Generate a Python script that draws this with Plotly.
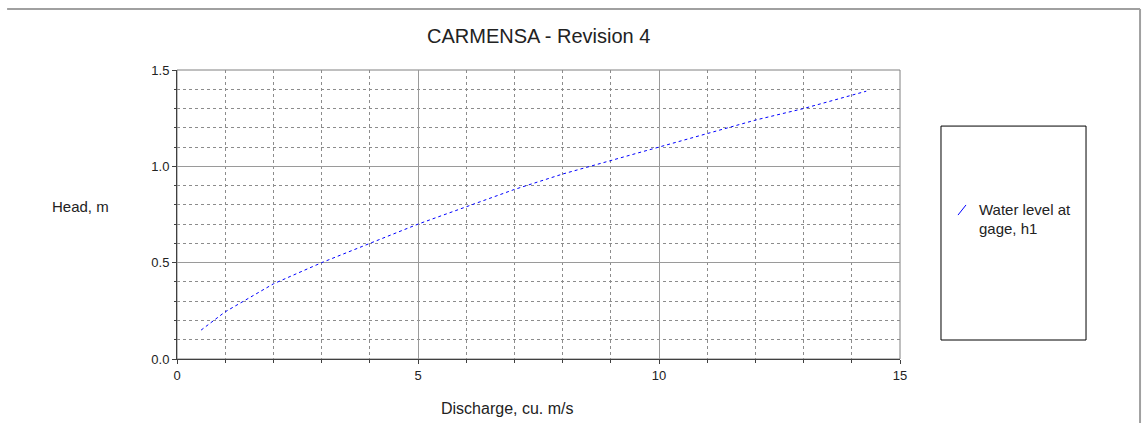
import plotly.graph_objects as go

# rating curve
discharge = [0.5, 1, 2, 3, 4, 5, 6, 7, 8, 9, 10, 11, 12, 13, 14, 14.3]
head = [0.15, 0.245, 0.39, 0.50, 0.60, 0.70, 0.79, 0.88, 0.96, 1.03, 1.10, 1.17, 1.24, 1.30, 1.37, 1.39]

x_ticks = [0, 5, 10, 15]
y_ticks = [0.0, 0.5, 1.0, 1.5]
y_tick_text = ['0.0', '0.5', '1.0', '1.5']

series_name = 'Water level at gage, h1'
title = 'CARMENSA - Revision 4'

font = 'Liberation Sans, Arial, sans-serif'
grid_grey = '#8c8c8c'

fig = go.Figure()
fig.add_trace(
    go.Scatter(
        x=discharge,
        y=head,
        mode='lines',
        name=series_name,
        line=dict(color='#0000ff', width=1, dash='3px,3px'),
        showlegend=False,
    )
)

axis_common = dict(
    showline=True,
    linecolor='#404040',
    linewidth=1,
    ticks='outside',
    ticklen=4,
    tickcolor='#404040',
    showgrid=True,
    gridcolor='#9a9a9a',
    gridwidth=1,
    zeroline=False,
    tickfont=dict(family=font, size=13, color='#222222'),
)

fig.update_layout(
    width=1143,
    height=423,
    margin=dict(l=177, r=243, t=70, b=64),
    paper_bgcolor='white',
    plot_bgcolor='white',
    font=dict(family=font, size=14, color='#222222'),
    xaxis=dict(
        range=[0, 15],
        tickvals=x_ticks,
        minor=dict(dtick=1, showgrid=True, gridcolor=grid_grey, griddash='3px,3px', ticks='outside', ticklen=3, tickcolor='#404040'),
        **axis_common,
    ),
    yaxis=dict(
        range=[0, 1.5],
        tickvals=y_ticks,
        ticktext=y_tick_text,
        minor=dict(dtick=0.1, showgrid=True, gridcolor=grid_grey, griddash='3px,3px', ticks='outside', ticklen=2, tickcolor='#404040'),
        **axis_common,
    ),
    shapes=[
        # plot frame (top / right in grey)
        dict(type='rect', xref='paper', yref='paper', x0=0, x1=1, y0=0, y1=1, line=dict(color='#808080', width=1), layer='below'),
        # outer window edges
        dict(type='line', xref='paper', yref='paper', x0=-0.235, x1=1.332, y0=1.211, y1=1.211, line=dict(color='#a0a0a0', width=2)),
        dict(type='line', xref='paper', yref='paper', x0=1.332, x1=1.332, y0=1.211, y1=-0.23, line=dict(color='#a0a0a0', width=2)),
        # legend box and symbol
        dict(type='rect', xref='paper', yref='paper', x0=1.0567, x1=1.2573, y0=0.0657, y1=0.806, line=dict(color='#000000', width=1)),
        dict(type='line', xref='paper', yref='paper', x0=1.0802, x1=1.0913, y0=0.498, y1=0.533, line=dict(color='#0000ff', width=1)),
    ],
    annotations=[
        dict(text=title, xref='paper', yref='paper', x=0.5, y=1.118, showarrow=False, xanchor='center', yanchor='middle', font=dict(size=20)),
        dict(text='Head, m', xref='paper', yref='paper', x=-0.133, y=0.526, showarrow=False, xanchor='center', yanchor='middle', font=dict(size=15)),
        dict(text='Discharge, cu. m/s', xref='paper', yref='paper', x=0.456, y=-0.173, showarrow=False, xanchor='center', yanchor='middle', font=dict(size=16)),
        dict(text='Water level at', xref='paper', yref='paper', x=1.1065, y=0.519, showarrow=False, xanchor='left', yanchor='middle', font=dict(size=15)),
        dict(text='gage, h1', xref='paper', yref='paper', x=1.1065, y=0.45, showarrow=False, xanchor='left', yanchor='middle', font=dict(size=15)),
    ],
)

# drop the default 8px body margin so the figure fills the window exactly
fig.write_html(
    'out.html',
    config={'displayModeBar': False},
    post_script="document.body.style.margin='0px';document.body.style.overflow='hidden';",
)
